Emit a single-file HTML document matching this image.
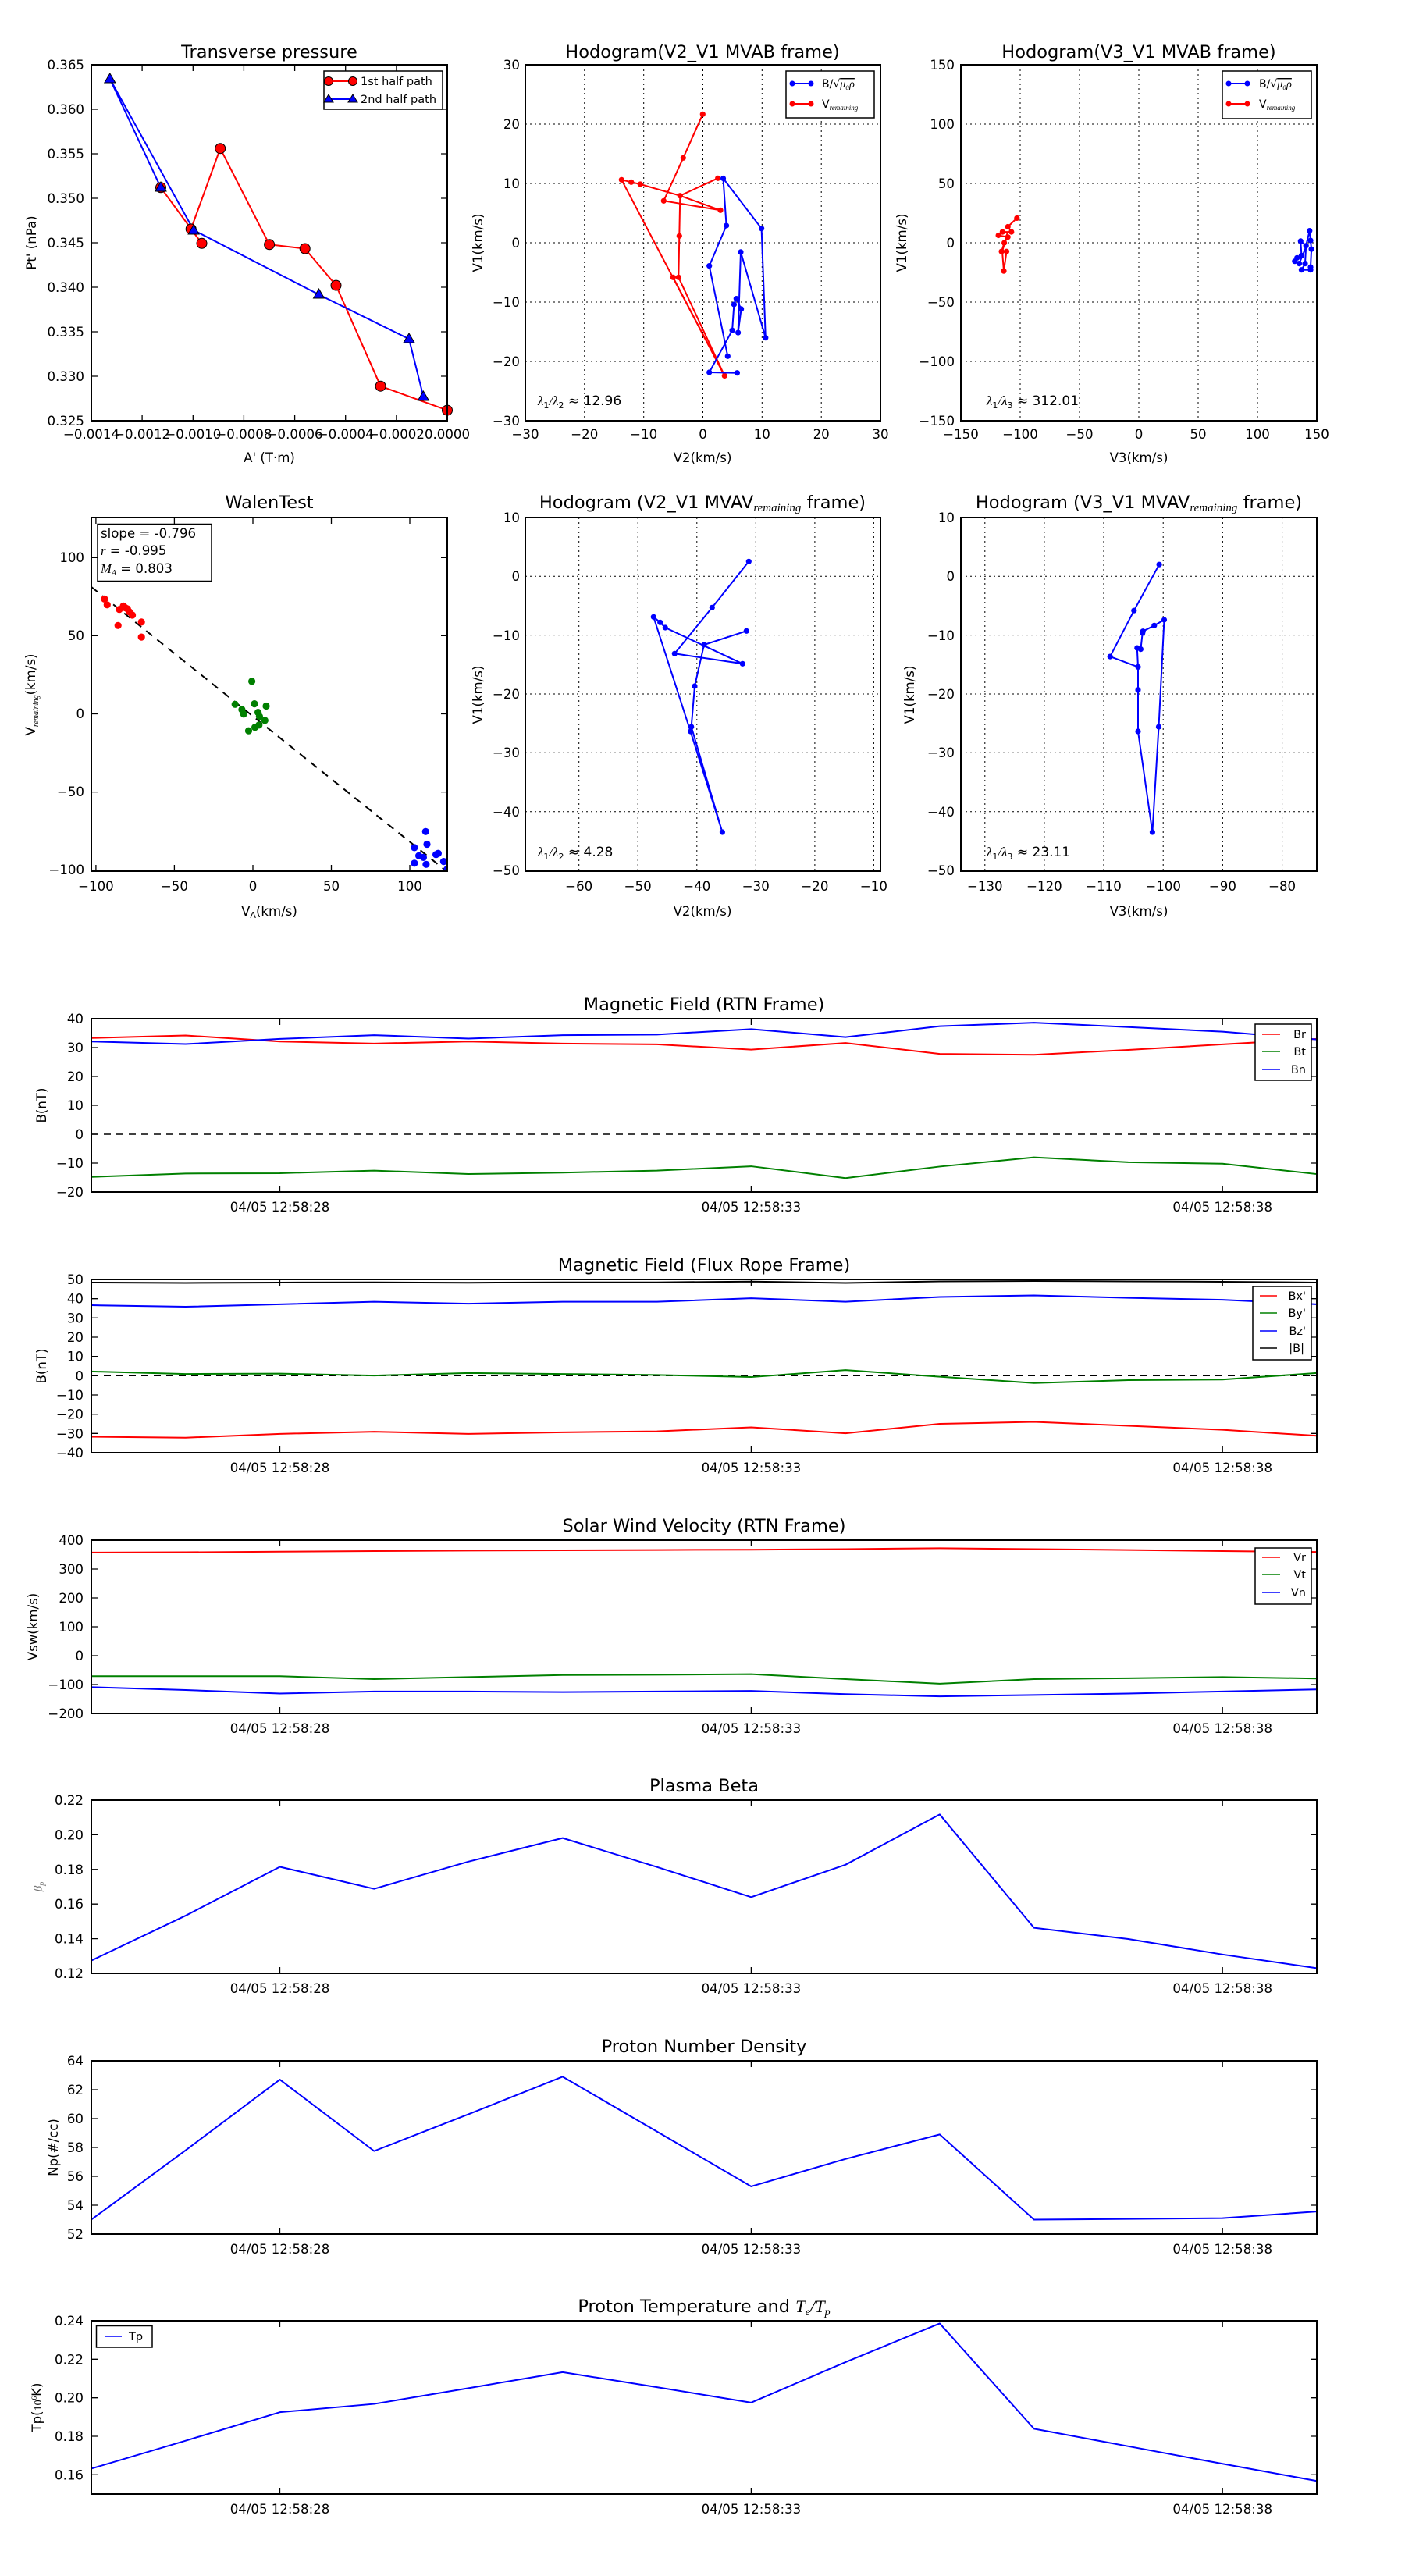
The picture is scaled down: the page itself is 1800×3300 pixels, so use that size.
<!DOCTYPE html>
<html><head><meta charset="utf-8"><style>
html,body{margin:0;padding:0;background:#fff}
svg{display:block}
text{font-family:"DejaVu Sans","Liberation Sans",sans-serif;fill:#000}
.t{font-size:16.6px}
.ti{font-size:22.5px}
.lg{font-size:14.5px}
.ax{fill:none;stroke:#000;stroke-width:2}
.tk{stroke:#000;stroke-width:1.3}
.gr{stroke:#000;stroke-width:1;stroke-dasharray:2,4}
.ln{fill:none;stroke-width:2;vector-effect:non-scaling-stroke;stroke-linejoin:round}
.pl{fill:none;stroke-width:2;stroke-linejoin:round}
</style></head><body>
<svg width="1800" height="3300" viewBox="0 0 1800 3300" xmlns="http://www.w3.org/2000/svg">
<rect width="1800" height="3300" fill="#fff"/>

<!-- ============ Plot A: Transverse pressure ============ -->
<text class="ti" x="345" y="74" text-anchor="middle">Transverse pressure</text>
<g class="tk">
<path d="M182.1,539v-8M247.3,539v-8M312.4,539v-8M377.6,539v-8M442.7,539v-8M507.9,539v-8M182.1,83v8M247.3,83v8M312.4,83v8M377.6,83v8M442.7,83v8M507.9,83v8"/>
<path d="M117,140h8M117,197h8M117,254h8M117,311h8M117,368h8M117,425h8M117,482h8M573,140h-8M573,197h-8M573,254h-8M573,311h-8M573,368h-8M573,425h-8M573,482h-8"/>
</g>
<g class="t" text-anchor="end">
<text x="108" y="89">0.365</text><text x="108" y="146">0.360</text><text x="108" y="203">0.355</text><text x="108" y="260">0.350</text><text x="108" y="317">0.345</text><text x="108" y="374">0.340</text><text x="108" y="431">0.335</text><text x="108" y="488">0.330</text><text x="108" y="545">0.325</text>
</g>
<g class="t" text-anchor="middle">
<text x="117" y="562">−0.0014</text><text x="182.1" y="562">−0.0012</text><text x="247.3" y="562">−0.0010</text><text x="312.4" y="562">−0.0008</text><text x="377.6" y="562">−0.0006</text><text x="442.7" y="562">−0.0004</text><text x="507.9" y="562">−0.0002</text><text x="573" y="562">0.0000</text>
<text x="345" y="592">A' (T·m)</text>
</g>
<text class="t" text-anchor="middle" transform="translate(40,311) rotate(-90)" dy="0.35em">Pt' (nPa)</text>
<polyline class="pl" stroke="#f00" points="206,240.3 258.5,311.8 244.7,293.4 282.2,190.2 345.1,313.3 390.7,318.5 430.5,365.6 487.6,494.7 573,525.6"/>
<polyline class="pl" stroke="#00f" points="206,240.3 140.8,101 248.1,294.9 408.5,377.4 524,434.2 542.4,508"/>
<g fill="#f00" stroke="#000" stroke-width="1">
<circle cx="206" cy="240.3" r="6.5"/><circle cx="258.5" cy="311.8" r="6.5"/><circle cx="244.7" cy="293.4" r="6.5"/><circle cx="282.2" cy="190.2" r="6.5"/><circle cx="345.1" cy="313.3" r="6.5"/><circle cx="390.7" cy="318.5" r="6.5"/><circle cx="430.5" cy="365.6" r="6.5"/><circle cx="487.6" cy="494.7" r="6.5"/><circle cx="573" cy="525.6" r="6.5"/>
</g>
<g fill="#00f" stroke="#000" stroke-width="1">
<path d="M206,233l7,12h-14z"/><path d="M140.8,94l7,12h-14z"/><path d="M248.1,288l7,12h-14z"/><path d="M408.5,370l7,12h-14z"/><path d="M524,427l7,12h-14z"/><path d="M542.4,501l7,12h-14z"/>
</g>
<rect class="ax" x="117" y="83" width="456" height="456"/>
<rect x="415" y="91" width="152" height="49" fill="#fff" stroke="#000" stroke-width="1.5"/>
<line x1="420" y1="104" x2="453" y2="104" stroke="#f00" stroke-width="2"/>
<circle cx="421" cy="104" r="5.5" fill="#f00" stroke="#000"/><circle cx="452" cy="104" r="5.5" fill="#f00" stroke="#000"/>
<line x1="420" y1="127" x2="453" y2="127" stroke="#00f" stroke-width="2"/>
<path d="M421,121l6,10h-12z M452,121l6,10h-12z" fill="#00f" stroke="#000"/>
<text class="lg" x="462" y="109">1st half path</text>
<text class="lg" x="462" y="132">2nd half path</text>

<!-- ============ Plot B: Hodogram V2_V1 MVAB ============ -->
<text class="ti" x="900" y="74" text-anchor="middle">Hodogram(V2_V1 MVAB frame)</text>
<g class="gr">
<path d="M748.8,83V539M824.7,83V539M900.5,83V539M976.3,83V539M1052.2,83V539M673,159H1128M673,235H1128M673,311H1128M673,387H1128M673,463H1128"/>
</g>
<g class="t" text-anchor="end">
<text x="666" y="89">30</text><text x="666" y="165">20</text><text x="666" y="241">10</text><text x="666" y="317">0</text><text x="666" y="393">−10</text><text x="666" y="469">−20</text><text x="666" y="545">−30</text>
</g>
<g class="t" text-anchor="middle">
<text x="673" y="562">−30</text><text x="748.8" y="562">−20</text><text x="824.7" y="562">−10</text><text x="900.5" y="562">0</text><text x="976.3" y="562">10</text><text x="1052.2" y="562">20</text><text x="1128" y="562">30</text>
<text x="900" y="592">V2(km/s)</text>
</g>
<text class="t" text-anchor="middle" transform="translate(612,311) rotate(-90)" dy="0.35em">V1(km/s)</text>
<g stroke="#f00" class="pl">
<polyline points="900.3,146.3 875.3,202.3 850.3,257.3 923,269.3 871.3,250.7 919.7,228.3"/>
<polyline points="871.3,250.7 820.3,236 808.7,233.3 796.3,230.3 928.3,481.4"/>
<polyline points="871.3,250.7 870.3,302.3 869.3,355.3 928.3,481.4"/>
<polyline points="869.3,355.3 862.3,355.3 928.3,481.4"/>
</g>
<g fill="#f00">
<circle cx="900.3" cy="146.3" r="3.6"/><circle cx="875.3" cy="202.3" r="3.6"/><circle cx="850.3" cy="257.3" r="3.6"/><circle cx="923" cy="269.3" r="3.6"/><circle cx="871.3" cy="250.7" r="3.6"/><circle cx="919.7" cy="228.3" r="3.6"/><circle cx="820.3" cy="236" r="3.6"/><circle cx="808.7" cy="233.3" r="3.6"/><circle cx="796.3" cy="230.3" r="3.6"/><circle cx="870.3" cy="302.3" r="3.6"/><circle cx="869.3" cy="355.3" r="3.6"/><circle cx="862.3" cy="355.3" r="3.6"/><circle cx="928.3" cy="481.4" r="3.6"/>
</g>
<polyline class="pl" stroke="#00f" points="944.4,477.7 908.7,477 938.1,423.2 940.4,390 943.3,382.6 949.6,395.9 945.6,426.1 949,322.9 980.8,432.7 975.6,292.7 926.5,228.5 930.6,289 908.7,340.6 932.3,456.3"/>
<g fill="#00f">
<circle cx="944.4" cy="477.7" r="3.6"/><circle cx="908.7" cy="477" r="3.6"/><circle cx="938.1" cy="423.2" r="3.6"/><circle cx="940.4" cy="390" r="3.6"/><circle cx="943.3" cy="382.6" r="3.6"/><circle cx="949.6" cy="395.9" r="3.6"/><circle cx="945.6" cy="426.1" r="3.6"/><circle cx="949" cy="322.9" r="3.6"/><circle cx="980.8" cy="432.7" r="3.6"/><circle cx="975.6" cy="292.7" r="3.6"/><circle cx="926.5" cy="228.5" r="3.6"/><circle cx="930.6" cy="289" r="3.6"/><circle cx="908.7" cy="340.6" r="3.6"/><circle cx="932.3" cy="456.3" r="3.6"/>
</g>
<rect class="ax" x="673" y="83" width="455" height="456"/>
<text x="689" y="519" style="font-size:17px"><tspan font-family="Liberation Serif" font-style="italic">λ</tspan><tspan font-size="11" dy="4">1</tspan><tspan dy="-4" font-family="Liberation Serif" font-style="italic">/λ</tspan><tspan font-size="11" dy="4">2</tspan><tspan dy="-4"> ≈ 12.96</tspan></text>
<rect x="1007" y="91" width="113" height="60" fill="#fff" stroke="#000" stroke-width="1.5"/>
<line x1="1014" y1="107" x2="1040" y2="107" stroke="#00f" stroke-width="2"/><circle cx="1015" cy="107" r="3.5" fill="#00f"/><circle cx="1039" cy="107" r="3.5" fill="#00f"/>
<line x1="1014" y1="133" x2="1040" y2="133" stroke="#f00" stroke-width="2"/><circle cx="1015" cy="133" r="3.5" fill="#f00"/><circle cx="1039" cy="133" r="3.5" fill="#f00"/>
<text x="1053" y="112" style="font-size:14px">B/√<tspan font-family="Liberation Serif" font-style="italic" text-decoration="overline">μ₀ρ</tspan></text>
<text x="1053" y="138" style="font-size:14px">V<tspan font-family="Liberation Serif" font-style="italic" font-size="9" dy="3">remaining</tspan></text>

<!-- ============ Plot C: Hodogram V3_V1 MVAB ============ -->
<text class="ti" x="1459" y="74" text-anchor="middle">Hodogram(V3_V1 MVAB frame)</text>
<g class="gr">
<path d="M1307,83V539M1383,83V539M1459,83V539M1535,83V539M1611,83V539M1231,159H1687M1231,235H1687M1231,311H1687M1231,387H1687M1231,463H1687"/>
</g>
<g class="t" text-anchor="end">
<text x="1223" y="89">150</text><text x="1223" y="165">100</text><text x="1223" y="241">50</text><text x="1223" y="317">0</text><text x="1223" y="393">−50</text><text x="1223" y="469">−100</text><text x="1223" y="545">−150</text>
</g>
<g class="t" text-anchor="middle">
<text x="1231" y="562">−150</text><text x="1307" y="562">−100</text><text x="1383" y="562">−50</text><text x="1459" y="562">0</text><text x="1535" y="562">50</text><text x="1611" y="562">100</text><text x="1687" y="562">150</text>
<text x="1459" y="592">V3(km/s)</text>
</g>
<text class="t" text-anchor="middle" transform="translate(1155,311) rotate(-90)" dy="0.35em">V1(km/s)</text>
<polyline class="pl" stroke="#f00" points="1302.8,279.4 1291.2,290.5 1295.8,297.1 1284.3,297.1 1279.1,301.5 1291.2,303.7 1286.6,311.1 1283.1,322.2 1289.5,322.2 1286,347.2 1284,322.2 1291,297"/>
<g fill="#f00">
<circle cx="1302.8" cy="279.4" r="3.6"/><circle cx="1291.2" cy="290.5" r="3.6"/><circle cx="1295.8" cy="297.1" r="3.6"/><circle cx="1284.3" cy="297.1" r="3.6"/><circle cx="1279.1" cy="301.5" r="3.6"/><circle cx="1291.2" cy="303.7" r="3.6"/><circle cx="1286.6" cy="311.1" r="3.6"/><circle cx="1283.1" cy="322.2" r="3.6"/><circle cx="1289.5" cy="322.2" r="3.6"/><circle cx="1286" cy="347.2" r="3.6"/>
</g>
<polyline class="pl" stroke="#00f" points="1677.8,295.6 1679,308.1 1680.1,319.2 1679,342.1 1679,345.7 1667.4,345.7 1672,337.6 1673.2,314.8 1666.3,308.9 1667.4,327.3 1661.7,330.3 1658.8,334.7 1664.5,337.6 1672,319.2 1677.8,295.6"/>
<g fill="#00f">
<circle cx="1677.8" cy="295.6" r="3.6"/><circle cx="1679" cy="308.1" r="3.6"/><circle cx="1680.1" cy="319.2" r="3.6"/><circle cx="1679" cy="342.1" r="3.6"/><circle cx="1679" cy="345.7" r="3.6"/><circle cx="1667.4" cy="345.7" r="3.6"/><circle cx="1672" cy="337.6" r="3.6"/><circle cx="1673.2" cy="314.8" r="3.6"/><circle cx="1666.3" cy="308.9" r="3.6"/><circle cx="1667.4" cy="327.3" r="3.6"/><circle cx="1661.7" cy="330.3" r="3.6"/><circle cx="1658.8" cy="334.7" r="3.6"/><circle cx="1664.5" cy="337.6" r="3.6"/>
</g>
<rect class="ax" x="1231" y="83" width="456" height="456"/>
<text x="1264" y="519" style="font-size:17px"><tspan font-family="Liberation Serif" font-style="italic">λ</tspan><tspan font-size="11" dy="4">1</tspan><tspan dy="-4" font-family="Liberation Serif" font-style="italic">/λ</tspan><tspan font-size="11" dy="4">3</tspan><tspan dy="-4"> ≈ 312.01</tspan></text>
<rect x="1566" y="91" width="114" height="61" fill="#fff" stroke="#000" stroke-width="1.5"/>
<line x1="1573" y1="107" x2="1599" y2="107" stroke="#00f" stroke-width="2"/><circle cx="1574" cy="107" r="3.5" fill="#00f"/><circle cx="1598" cy="107" r="3.5" fill="#00f"/>
<line x1="1573" y1="133" x2="1599" y2="133" stroke="#f00" stroke-width="2"/><circle cx="1574" cy="133" r="3.5" fill="#f00"/><circle cx="1598" cy="133" r="3.5" fill="#f00"/>
<text x="1613" y="112" style="font-size:14px">B/√<tspan font-family="Liberation Serif" font-style="italic" text-decoration="overline">μ₀ρ</tspan></text>
<text x="1613" y="138" style="font-size:14px">V<tspan font-family="Liberation Serif" font-style="italic" font-size="9" dy="3">remaining</tspan></text>

<!-- ============ Plot D: WalenTest ============ -->
<text class="ti" x="345" y="651" text-anchor="middle">WalenTest</text>
<g class="tk">
<path d="M122.9,1116v-8M223.4,1116v-8M324,1116v-8M424.5,1116v-8M525,1116v-8M122.9,663v8M223.4,663v8M324,663v8M424.5,663v8M525,663v8"/>
<path d="M117,714.3h8M117,814.4h8M117,914.5h8M117,1014.6h8M117,1114.6h8M573,714.3h-8M573,814.4h-8M573,914.5h-8M573,1014.6h-8M573,1114.6h-8"/>
</g>
<g class="t" text-anchor="end">
<text x="108" y="720">100</text><text x="108" y="820">50</text><text x="108" y="920">0</text><text x="108" y="1020">−50</text><text x="108" y="1120">−100</text>
</g>
<g class="t" text-anchor="middle">
<text x="122.9" y="1141">−100</text><text x="223.4" y="1141">−50</text><text x="324" y="1141">0</text><text x="424.5" y="1141">50</text><text x="525" y="1141">100</text>
<text x="345" y="1173">V<tspan font-size="11" dy="3">A</tspan><tspan dy="-3">(km/s)</tspan></text>
</g>
<text class="t" text-anchor="middle" transform="translate(39,890) rotate(-90)" dy="0.35em">V<tspan font-family="Liberation Serif" font-style="italic" font-size="10" dy="4">remaining</tspan><tspan dy="-4">(km/s)</tspan></text>
<defs><clipPath id="cD"><rect x="117" y="663" width="456" height="453"/></clipPath></defs>
<g clip-path="url(#cD)">
<line x1="117" y1="751.9" x2="573" y2="1116.8" stroke="#000" stroke-width="2" stroke-dasharray="10,8"/>
<g fill="#f00">
<circle cx="133.9" cy="767.4" r="4.6"/><circle cx="137.3" cy="774.8" r="4.6"/><circle cx="151.2" cy="801.3" r="4.6"/><circle cx="152.9" cy="780.7" r="4.6"/><circle cx="158.1" cy="776.3" r="4.6"/><circle cx="163.3" cy="780" r="4.6"/><circle cx="169.6" cy="788" r="4.6"/><circle cx="181.2" cy="796.9" r="4.6"/><circle cx="181.2" cy="816.1" r="4.6"/><circle cx="165.6" cy="783.7" r="4.6"/><circle cx="160.4" cy="778.5" r="4.6"/>
</g>
<g fill="#008000">
<circle cx="322.6" cy="872.9" r="4.6"/><circle cx="301.2" cy="902.3" r="4.6"/><circle cx="309.9" cy="909" r="4.6"/><circle cx="312.2" cy="914.8" r="4.6"/><circle cx="326" cy="901.6" r="4.6"/><circle cx="330.6" cy="912.6" r="4.6"/><circle cx="341" cy="904.5" r="4.6"/><circle cx="339.3" cy="922.9" r="4.6"/><circle cx="318.5" cy="936.2" r="4.6"/><circle cx="326.6" cy="931.8" r="4.6"/><circle cx="331.8" cy="928.9" r="4.6"/><circle cx="332.4" cy="917.8" r="4.6"/>
</g>
<g fill="#00f">
<circle cx="545.3" cy="1065.3" r="4.6"/><circle cx="530.9" cy="1085.9" r="4.6"/><circle cx="547" cy="1081.5" r="4.6"/><circle cx="536.6" cy="1096.2" r="4.6"/><circle cx="542.4" cy="1098.4" r="4.6"/><circle cx="530.9" cy="1105.8" r="4.6"/><circle cx="545.9" cy="1107.3" r="4.6"/><circle cx="558.6" cy="1094.7" r="4.6"/><circle cx="561.4" cy="1093.2" r="4.6"/><circle cx="568.4" cy="1103.6" r="4.6"/><circle cx="556.8" cy="1120" r="4.6"/><circle cx="573" cy="1113.2" r="4.6"/>
</g>
</g>
<rect class="ax" x="117" y="663" width="456" height="453"/>
<rect x="125" y="671.5" width="146" height="73" fill="#fff" stroke="#000" stroke-width="1.5"/>
<text class="t" x="129" y="689">slope = -0.796</text>
<text class="t" x="129" y="711"><tspan font-family="Liberation Serif" font-style="italic">r</tspan> = -0.995</text>
<text class="t" x="129" y="734"><tspan font-family="Liberation Serif" font-style="italic">M</tspan><tspan font-family="Liberation Serif" font-style="italic" font-size="10" dy="3">A</tspan><tspan dy="-3"> = 0.803</tspan></text>

<!-- ============ Plot E ============ -->
<text class="ti" x="900" y="651" text-anchor="middle">Hodogram (V2_V1 MVAV<tspan font-family="Liberation Serif" font-style="italic" font-size="15" dy="4">remaining</tspan><tspan dy="-4"> frame)</tspan></text>
<g class="gr">
<path d="M741.7,663V1116M817.2,663V1116M892.8,663V1116M968.3,663V1116M1043.9,663V1116M1119.4,663V1116M673,738.3H1128M673,813.6H1128M673,889H1128M673,964.3H1128M673,1039.7H1128"/>
</g>
<g class="t" text-anchor="end">
<text x="666" y="669">10</text><text x="666" y="744">0</text><text x="666" y="820">−10</text><text x="666" y="895">−20</text><text x="666" y="970">−30</text><text x="666" y="1046">−40</text><text x="666" y="1121">−50</text>
</g>
<g class="t" text-anchor="middle">
<text x="741.7" y="1141">−60</text><text x="817.2" y="1141">−50</text><text x="892.8" y="1141">−40</text><text x="968.3" y="1141">−30</text><text x="1043.9" y="1141">−20</text><text x="1119.4" y="1141">−10</text>
<text x="900" y="1173">V2(km/s)</text>
</g>
<text class="t" text-anchor="middle" transform="translate(612,890) rotate(-90)" dy="0.35em">V1(km/s)</text>
<polyline class="pl" stroke="#00f" points="959.3,719.3 912.3,778.3 864.3,837.3 951.3,850.3 852.3,804 845.7,797.3 837.3,790.3 884.6,937 925.4,1066 885.7,931.1 890,879 902,826 956.3,808.3"/>
<g fill="#00f">
<circle cx="959.3" cy="719.3" r="3.6"/><circle cx="912.3" cy="778.3" r="3.6"/><circle cx="864.3" cy="837.3" r="3.6"/><circle cx="951.3" cy="850.3" r="3.6"/><circle cx="852.3" cy="804" r="3.6"/><circle cx="845.7" cy="797.3" r="3.6"/><circle cx="837.3" cy="790.3" r="3.6"/><circle cx="884.6" cy="937" r="3.6"/><circle cx="925.4" cy="1066" r="3.6"/><circle cx="885.7" cy="931.1" r="3.6"/><circle cx="890" cy="879" r="3.6"/><circle cx="902" cy="826" r="3.6"/><circle cx="956.3" cy="808.3" r="3.6"/>
</g>
<rect class="ax" x="673" y="663" width="455" height="453"/>
<text x="689" y="1097" style="font-size:17px"><tspan font-family="Liberation Serif" font-style="italic">λ</tspan><tspan font-size="11" dy="4">1</tspan><tspan dy="-4" font-family="Liberation Serif" font-style="italic">/λ</tspan><tspan font-size="11" dy="4">2</tspan><tspan dy="-4"> ≈ 4.28</tspan></text>

<!-- ============ Plot F ============ -->
<text class="ti" x="1459" y="651" text-anchor="middle">Hodogram (V3_V1 MVAV<tspan font-family="Liberation Serif" font-style="italic" font-size="15" dy="4">remaining</tspan><tspan dy="-4"> frame)</tspan></text>
<g class="gr">
<path d="M1261.8,663V1116M1337.9,663V1116M1414,663V1116M1490.2,663V1116M1566.4,663V1116M1642.6,663V1116M1231,738.3H1687M1231,813.6H1687M1231,889H1687M1231,964.3H1687M1231,1039.7H1687"/>
</g>
<g class="t" text-anchor="end">
<text x="1223" y="669">10</text><text x="1223" y="744">0</text><text x="1223" y="820">−10</text><text x="1223" y="895">−20</text><text x="1223" y="970">−30</text><text x="1223" y="1046">−40</text><text x="1223" y="1121">−50</text>
</g>
<g class="t" text-anchor="middle">
<text x="1261.8" y="1141">−130</text><text x="1337.9" y="1141">−120</text><text x="1414" y="1141">−110</text><text x="1490.2" y="1141">−100</text><text x="1566.4" y="1141">−90</text><text x="1642.6" y="1141">−80</text>
<text x="1459" y="1173">V3(km/s)</text>
</g>
<text class="t" text-anchor="middle" transform="translate(1165,890) rotate(-90)" dy="0.35em">V1(km/s)</text>
<polyline class="pl" stroke="#00f" points="1485.1,723.2 1452.8,782.2 1422.2,841.1 1458,854.4 1458,883.9 1458,937 1476.4,1066 1484.5,931.1 1491.5,794 1478.8,801.3 1464.3,808.7 1463.7,810.9 1461.4,831.6 1456.8,830.1 1458,854.4"/>
<g fill="#00f">
<circle cx="1485.1" cy="723.2" r="3.6"/><circle cx="1452.8" cy="782.2" r="3.6"/><circle cx="1422.2" cy="841.1" r="3.6"/><circle cx="1458" cy="854.4" r="3.6"/><circle cx="1458" cy="883.9" r="3.6"/><circle cx="1458" cy="937" r="3.6"/><circle cx="1476.4" cy="1066" r="3.6"/><circle cx="1484.5" cy="931.1" r="3.6"/><circle cx="1491.5" cy="794" r="3.6"/><circle cx="1478.8" cy="801.3" r="3.6"/><circle cx="1464.3" cy="808.7" r="3.6"/><circle cx="1463.7" cy="810.9" r="3.6"/><circle cx="1461.4" cy="831.6" r="3.6"/><circle cx="1456.8" cy="830.1" r="3.6"/>
</g>
<rect class="ax" x="1231" y="663" width="456" height="453"/>
<text x="1264" y="1097" style="font-size:17px"><tspan font-family="Liberation Serif" font-style="italic">λ</tspan><tspan font-size="11" dy="4">1</tspan><tspan dy="-4" font-family="Liberation Serif" font-style="italic">/λ</tspan><tspan font-size="11" dy="4">3</tspan><tspan dy="-4"> ≈ 23.11</tspan></text>

<!-- ============ Time panels ============ -->
<!-- P1 -->
<text class="ti" x="902" y="1294" text-anchor="middle">Magnetic Field (RTN Frame)</text>
<line x1="117" y1="1453" x2="1687" y2="1453" stroke="#000" stroke-width="1.5" stroke-dasharray="9,7"/>
<g transform="translate(117,1305) scale(120.77,-3.7) translate(0,-40)">
<polyline class="ln" stroke="#f00" points="0,33.3 1,34.2 2,32.1 3,31.4 4,32.1 5,31.4 6,31.1 7,29.3 8,31.6 9,27.8 10,27.5 11,29.2 12,31.1 13,33"/>
<polyline class="ln" stroke="#008000" points="0,-14.8 1,-13.6 2,-13.5 3,-12.6 4,-13.8 5,-13.3 6,-12.6 7,-11.1 8,-15.2 9,-11.2 10,-8 11,-9.7 12,-10.2 13,-13.8"/>
<polyline class="ln" stroke="#00f" points="0,32.1 1,31.2 2,33 3,34.3 4,33.1 5,34.3 6,34.5 7,36.4 8,33.6 9,37.4 10,38.6 11,37.1 12,35.5 13,32.8"/>
</g>
<rect class="ax" x="117" y="1305" width="1570" height="222"/>
<g class="tk"><path d="M358.5,1527v-8M962.4,1527v-8M1566.2,1527v-8M358.5,1305v8M962.4,1305v8M1566.2,1305v8M117,1342h8M117,1379h8M117,1416h8M117,1453h8M117,1490h8M1687,1342h-8M1687,1379h-8M1687,1416h-8M1687,1453h-8M1687,1490h-8"/></g>
<g class="t" text-anchor="end"><text x="107" y="1311">40</text><text x="107" y="1348">30</text><text x="107" y="1385">20</text><text x="107" y="1422">10</text><text x="107" y="1459">0</text><text x="107" y="1496">−10</text><text x="107" y="1533">−20</text></g>
<g class="t" text-anchor="middle"><text x="358.5" y="1552">04/05 12:58:28</text><text x="962.4" y="1552">04/05 12:58:33</text><text x="1566.2" y="1552">04/05 12:58:38</text></g>
<text class="t" text-anchor="middle" transform="translate(53,1416) rotate(-90)" dy="0.35em">B(nT)</text>
<rect x="1608" y="1312" width="72" height="72" fill="#fff" stroke="#000" stroke-width="1.5"/>
<line x1="1617" y1="1325" x2="1640" y2="1325" stroke="#f00" stroke-width="1.5"/><line x1="1617" y1="1347" x2="1640" y2="1347" stroke="#008000" stroke-width="1.5"/><line x1="1617" y1="1370" x2="1640" y2="1370" stroke="#00f" stroke-width="1.5"/>
<g class="lg" text-anchor="end"><text x="1673" y="1330">Br</text><text x="1673" y="1352">Bt</text><text x="1673" y="1375">Bn</text></g>

<!-- P2 -->
<text class="ti" x="902" y="1628" text-anchor="middle">Magnetic Field (Flux Rope Frame)</text>
<line x1="117" y1="1762.3" x2="1687" y2="1762.3" stroke="#000" stroke-width="1.5" stroke-dasharray="9,7"/>
<g transform="translate(117,1639) scale(120.77,-2.4667) translate(0,-50)">
<polyline class="ln" stroke="#f00" points="0,-31.7 1,-32.2 2,-30.2 3,-29.1 4,-30.2 5,-29.4 6,-28.9 7,-26.8 8,-29.9 9,-25 10,-24 11,-26 12,-28.1 13,-31.2"/>
<polyline class="ln" stroke="#008000" points="0,2.2 1,0.9 2,1.1 3,0.1 4,1.4 5,0.9 6,0.4 7,-0.7 8,2.9 9,-0.5 10,-3.8 11,-2.3 12,-2 13,1.4"/>
<polyline class="ln" stroke="#00f" points="0,36.6 1,35.8 2,37.1 3,38.4 4,37.4 5,38.4 6,38.4 7,40.2 8,38.4 9,40.9 10,41.7 11,40.4 12,39.4 13,37.1"/>
<polyline class="ln" stroke="#000" points="0,48.4 1,48.2 2,48.4 3,48.5 4,48.3 5,48.5 6,48.5 7,48.9 8,48.2 9,49 10,49.2 11,49 12,48.8 13,48.4"/>
</g>
<rect class="ax" x="117" y="1639" width="1570" height="222"/>
<g class="tk"><path d="M358.5,1861v-8M962.4,1861v-8M1566.2,1861v-8M358.5,1639v8M962.4,1639v8M1566.2,1639v8M117,1663.7h8M117,1688.3h8M117,1713h8M117,1737.7h8M117,1762.3h8M117,1787h8M117,1811.7h8M117,1836.3h8M1687,1663.7h-8M1687,1688.3h-8M1687,1713h-8M1687,1737.7h-8M1687,1762.3h-8M1687,1787h-8M1687,1811.7h-8M1687,1836.3h-8"/></g>
<g class="t" text-anchor="end"><text x="107" y="1645">50</text><text x="107" y="1669.7">40</text><text x="107" y="1694.3">30</text><text x="107" y="1719">20</text><text x="107" y="1743.7">10</text><text x="107" y="1768.3">0</text><text x="107" y="1793">−10</text><text x="107" y="1817.7">−20</text><text x="107" y="1842.3">−30</text><text x="107" y="1867">−40</text></g>
<g class="t" text-anchor="middle"><text x="358.5" y="1886">04/05 12:58:28</text><text x="962.4" y="1886">04/05 12:58:33</text><text x="1566.2" y="1886">04/05 12:58:38</text></g>
<text class="t" text-anchor="middle" transform="translate(53,1750) rotate(-90)" dy="0.35em">B(nT)</text>
<rect x="1605" y="1648" width="75" height="94" fill="#fff" stroke="#000" stroke-width="1.5"/>
<line x1="1614" y1="1660" x2="1636" y2="1660" stroke="#f00" stroke-width="1.5"/><line x1="1614" y1="1682" x2="1636" y2="1682" stroke="#008000" stroke-width="1.5"/><line x1="1614" y1="1705" x2="1636" y2="1705" stroke="#00f" stroke-width="1.5"/><line x1="1614" y1="1727" x2="1636" y2="1727" stroke="#000" stroke-width="1.5"/>
<g class="lg" text-anchor="end"><text x="1673" y="1665">Bx'</text><text x="1673" y="1687">By'</text><text x="1673" y="1710">Bz'</text><text x="1671" y="1732">|B|</text></g>

<!-- P3 -->
<text class="ti" x="902" y="1962" text-anchor="middle">Solar Wind Velocity (RTN Frame)</text>
<g transform="translate(117,1973) scale(120.77,-0.37) translate(0,-400)">
<polyline class="ln" stroke="#f00" points="0,357 1,358 2,360 3,362 4,364 5,365 6,366 7,367 8,369 9,372 10,369 11,366 12,362 13,359"/>
<polyline class="ln" stroke="#008000" points="0,-71 1,-71 2,-71 3,-81 4,-74 5,-67 6,-66 7,-64 8,-81 9,-97 10,-81 11,-78 12,-74 13,-79"/>
<polyline class="ln" stroke="#00f" points="0,-109 1,-119 2,-131 3,-124 4,-124 5,-126 6,-124 7,-122 8,-133 9,-141 10,-136 11,-131 12,-124 13,-117"/>
</g>
<rect class="ax" x="117" y="1973" width="1570" height="222"/>
<g class="tk"><path d="M358.5,2195v-8M962.4,2195v-8M1566.2,2195v-8M358.5,1973v8M962.4,1973v8M1566.2,1973v8M117,2010h8M117,2047h8M117,2084h8M117,2121h8M117,2158h8M1687,2010h-8M1687,2047h-8M1687,2084h-8M1687,2121h-8M1687,2158h-8"/></g>
<g class="t" text-anchor="end"><text x="107" y="1979">400</text><text x="107" y="2016">300</text><text x="107" y="2053">200</text><text x="107" y="2090">100</text><text x="107" y="2127">0</text><text x="107" y="2164">−100</text><text x="107" y="2201">−200</text></g>
<g class="t" text-anchor="middle"><text x="358.5" y="2220">04/05 12:58:28</text><text x="962.4" y="2220">04/05 12:58:33</text><text x="1566.2" y="2220">04/05 12:58:38</text></g>
<text class="t" text-anchor="middle" transform="translate(42,2084) rotate(-90)" dy="0.35em">Vsw(km/s)</text>
<rect x="1608" y="1983" width="72" height="72" fill="#fff" stroke="#000" stroke-width="1.5"/>
<line x1="1617" y1="1995" x2="1640" y2="1995" stroke="#f00" stroke-width="1.5"/><line x1="1617" y1="2017" x2="1640" y2="2017" stroke="#008000" stroke-width="1.5"/><line x1="1617" y1="2040" x2="1640" y2="2040" stroke="#00f" stroke-width="1.5"/>
<g class="lg" text-anchor="end"><text x="1673" y="2000">Vr</text><text x="1673" y="2022">Vt</text><text x="1673" y="2045">Vn</text></g>

<!-- P4 -->
<text class="ti" x="902" y="2295" text-anchor="middle">Plasma Beta</text>
<g transform="translate(117,2306) scale(120.77,-2220) translate(0,-0.22)">
<polyline class="ln" stroke="#00f" points="0,0.1274 1,0.1533 2,0.1815 3,0.1688 4,0.1845 5,0.1981 6,0.1814 7,0.1640 8,0.1827 9,0.2117 10,0.1463 11,0.1398 12,0.1309 13,0.1230"/>
</g>
<rect class="ax" x="117" y="2306" width="1570" height="222"/>
<g class="tk"><path d="M358.5,2528v-8M962.4,2528v-8M1566.2,2528v-8M358.5,2306v8M962.4,2306v8M1566.2,2306v8M117,2350.4h8M117,2394.8h8M117,2439.2h8M117,2483.6h8M1687,2350.4h-8M1687,2394.8h-8M1687,2439.2h-8M1687,2483.6h-8"/></g>
<g class="t" text-anchor="end"><text x="107" y="2312">0.22</text><text x="107" y="2356.4">0.20</text><text x="107" y="2400.8">0.18</text><text x="107" y="2445.2">0.16</text><text x="107" y="2489.6">0.14</text><text x="107" y="2534">0.12</text></g>
<g class="t" text-anchor="middle"><text x="358.5" y="2553">04/05 12:58:28</text><text x="962.4" y="2553">04/05 12:58:33</text><text x="1566.2" y="2553">04/05 12:58:38</text></g>
<text text-anchor="middle" transform="translate(48,2417) rotate(-90)" dy="0.35em" style="font-size:15px;fill:#777;font-family:'Liberation Serif',serif;font-style:italic">β<tspan font-size="10" dy="3">p</tspan></text>

<!-- P5 -->
<text class="ti" x="902" y="2629" text-anchor="middle">Proton Number Density</text>
<g transform="translate(117,2640) scale(120.77,-18.5) translate(0,-64)">
<polyline class="ln" stroke="#00f" points="0,53.0 1,57.8 2,62.7 3,57.75 4,60.3 5,62.9 6,59.1 7,55.3 8,57.2 9,58.9 10,53.0 11,53.05 12,53.1 13,53.56"/>
</g>
<rect class="ax" x="117" y="2640" width="1570" height="222"/>
<g class="tk"><path d="M358.5,2862v-8M962.4,2862v-8M1566.2,2862v-8M358.5,2640v8M962.4,2640v8M1566.2,2640v8M117,2677h8M117,2714h8M117,2751h8M117,2788h8M117,2825h8M1687,2677h-8M1687,2714h-8M1687,2751h-8M1687,2788h-8M1687,2825h-8"/></g>
<g class="t" text-anchor="end"><text x="107" y="2646">64</text><text x="107" y="2683">62</text><text x="107" y="2720">60</text><text x="107" y="2757">58</text><text x="107" y="2794">56</text><text x="107" y="2831">54</text><text x="107" y="2868">52</text></g>
<g class="t" text-anchor="middle"><text x="358.5" y="2887">04/05 12:58:28</text><text x="962.4" y="2887">04/05 12:58:33</text><text x="1566.2" y="2887">04/05 12:58:38</text></g>
<text class="t" text-anchor="middle" transform="translate(68,2751) rotate(-90)" dy="0.35em">Np(#/cc)</text>

<!-- P6 -->
<text class="ti" x="902" y="2962" text-anchor="middle">Proton Temperature and <tspan font-family="Liberation Serif" font-style="italic">T</tspan><tspan font-family="Liberation Serif" font-style="italic" font-size="14" dy="4">e</tspan><tspan font-family="Liberation Serif" font-style="italic" dy="-4">/T</tspan><tspan font-family="Liberation Serif" font-style="italic" font-size="14" dy="4">p</tspan></text>
<g transform="translate(117,2973) scale(120.77,-2466.7) translate(0,-0.24)">
<polyline class="ln" stroke="#00f" points="0,0.1632 1,0.1777 2,0.1925 3,0.1968 4,0.205 5,0.2133 6,0.2055 7,0.1975 8,0.2185 9,0.2386 10,0.1839 11,0.1748 12,0.1657 13,0.1568"/>
</g>
<rect class="ax" x="117" y="2973" width="1570" height="222"/>
<g class="tk"><path d="M358.5,3195v-8M962.4,3195v-8M1566.2,3195v-8M358.5,2973v8M962.4,2973v8M1566.2,2973v8M117,3022.3h8M117,3071.7h8M117,3121h8M117,3170.3h8M1687,3022.3h-8M1687,3071.7h-8M1687,3121h-8M1687,3170.3h-8"/></g>
<g class="t" text-anchor="end"><text x="107" y="2979">0.24</text><text x="107" y="3028.3">0.22</text><text x="107" y="3077.7">0.20</text><text x="107" y="3127">0.18</text><text x="107" y="3176.3">0.16</text></g>
<g class="t" text-anchor="middle"><text x="358.5" y="3220">04/05 12:58:28</text><text x="962.4" y="3220">04/05 12:58:33</text><text x="1566.2" y="3220">04/05 12:58:38</text></g>
<text class="t" text-anchor="middle" transform="translate(47,3084) rotate(-90)" dy="0.35em">Tp(<tspan font-family="Liberation Serif" font-size="14">10</tspan><tspan font-family="Liberation Serif" font-size="9" dy="-6">6</tspan><tspan dy="6">K)</tspan></text>
<rect x="123.5" y="2979.5" width="71.5" height="27.5" fill="#fff" stroke="#000" stroke-width="1.5"/>
<line x1="134" y1="2993" x2="156" y2="2993" stroke="#00f" stroke-width="1.5"/>
<text class="lg" x="165" y="2998">Tp</text>
</svg>
</body></html>
